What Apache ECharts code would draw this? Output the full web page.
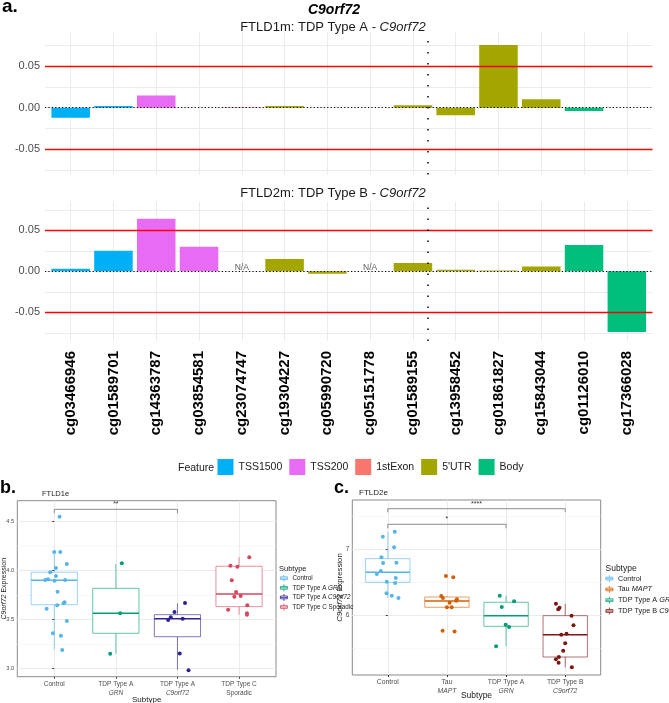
<!DOCTYPE html>
<html><head><meta charset="utf-8">
<script src="https://cdn.jsdelivr.net/npm/echarts@6/dist/echarts.min.js"></script>
<style>html,body{margin:0;padding:0;background:#fff}#c{width:669px;height:703px}</style>
</head><body><div id="c"></div>
<script>
// ---------------- Panel a data ----------------
const probes = ['cg03466946','cg01589701','cg14363787','cg03854581','cg23074747','cg19304227','cg05990720','cg05151778','cg01589155','cg13958452','cg01861827','cg15843044','cg01126010','cg17366028'];
const probeFeature = ['TSS1500','TSS1500','TSS200','TSS200','1stExon',"5'UTR","5'UTR","5'UTR","5'UTR","5'UTR","5'UTR","5'UTR",'Body','Body'];
const features = ['TSS1500','TSS200','1stExon',"5'UTR",'Body'];
const featureColors = ['#00B0F6','#E76BF3','#F8766D','#A3A500','#00BF7D'];
const ftld1m = [-0.012,0.002,0.0145,0,0.0006,0.002,0,0,0.003,-0.009,0.075,0.010,-0.004,0];
const ftld2m = [0.003,0.025,0.064,0.030,null,0.015,-0.003,null,0.010,0.002,0.001,0.006,0.032,-0.074];
const thresholds = [0.05,-0.05];
const regionDivider = 8.35;
const aGridTicks = [-0.075,-0.05,-0.025,0,0.025,0.05,0.075];
const aLabelTicks = [-0.05,0,0.05];

// ---------------- Panel b data ----------------
const subtypesB = ['Control','TDP Type A GRN','TDP Type A C9orf72','TDP Type C Sporadic'];
const xLabB = ['Control','TDP Type A\nGRN','TDP Type A\nC9orf72','TDP Type C\nSporadic'];
const colorsB = ['#56B4E9','#009E73','#2E2190','#D8455F'];
// [lower whisker, Q1, median, Q3, upper whisker]
const boxB = [[3.187,3.649,3.898,3.980,4.187],[3.149,3.357,3.561,3.816,4.064],[2.985,3.322,3.506,3.547,3.663],[3.547,3.629,3.758,4.041,4.133]];
// [jitter, value]
const ptsB0 = [[0.086,4.547],[0,4.187],[0.097,4.187],[0.204,4.064],[-0.065,3.980],[0.027,4.024],[0.027,3.942],[-0.145,3.901],[-0.102,3.908],[0.005,3.894],[0.177,3.901],[0.054,3.782],[0.167,3.673],[0.151,3.663],[0.048,3.643],[-0.124,3.608],[0.204,3.483],[-0.022,3.357],[0.108,3.333],[0.129,3.187]];
const ptsB1 = [[0.097,4.071],[0.07,3.561],[-0.092,3.149]];
const ptsB2 = [[0.123,3.666],[-0.048,3.575],[-0.108,3.520],[-0.151,3.493],[0.085,3.506],[0.037,3.15],[0.18,2.98]];
const ptsB3 = [[0.166,4.133],[-0.140,4.047],[-0.027,4.037],[-0.118,3.898],[-0.048,3.779],[0.027,3.738],[-0.076,3.731],[-0.177,3.598],[0.134,3.643],[0.129,3.561],[0.129,3.547]];
const bYLabels = [3.0,3.5,4.0,4.5];
const bYMinor = [3.25,3.75,4.25];
const bracketsB = [[0,2,4.622,4.582,'**']];

// ---------------- Panel c data ----------------
const subtypesC = ['Control','Tau MAPT','TDP Type A GRN','TDP Type B C9orf72'];
const xLabC = ['Control','Tau\nMAPT','TDP Type A\nGRN','TDP Type B\nC9orf72'];
const colorsC = ['#56B4E9','#D55E00','#009E73','#7A1712'];
const boxC = [[6.262,6.500,6.652,6.858,7.267],[6.121,6.121,6.217,6.277,6.292],[5.530,5.833,5.994,6.197,6.297],[5.212,5.368,5.706,5.994,6.176]];
const ptsC0 = [[0.118,7.267],[-0.084,7.191],[0.107,7.030],[-0.107,6.879],[-0.079,6.792],[0.146,6.797],[-0.118,6.671],[-0.185,6.626],[0.135,6.565],[-0.017,6.509],[0.124,6.489],[-0.022,6.333],[0.067,6.297],[0.18,6.262]];
const ptsC1 = [[-0.017,6.596],[0.107,6.576],[-0.096,6.292],[-0.067,6.262],[0.169,6.242],[0.157,6.222],[0.045,6.191],[0,6.121],[0.079,6.121],[-0.073,5.767],[0.129,5.753]];
const ptsC2 = [[-0.107,6.297],[0.135,6.212],[-0.073,6.126],[-0.006,5.858],[0.051,5.823],[-0.169,5.530]];
const ptsC3 = [[-0.157,6.176],[-0.096,6.115],[-0.118,6.09],[0.107,5.994],[0.14,5.848],[-0.067,5.706],[0.022,5.721],[0,5.576],[-0.034,5.464],[-0.107,5.368],[-0.157,5.333],[-0.112,5.282],[0.112,5.212]];
const cYLabels = [6,7];
const cYMinor = [5.5,6.5,7.5];
const bracketsC = [[0,3,7.615,7.561,'****'],[0,2,7.379,7.318,'*']];

// ---------------- helpers ----------------
const FONT = "'Liberation Sans', Arial, sans-serif";
const italicWords = ['C9orf72','GRN','MAPT'];
function ital(s){ let t = s; italicWords.forEach(w => { t = t.split(w).join('{i|' + w + '}'); }); return t; }

const gridA1 = {left:45, top:32.6, width:607.5, height:141.8, outerBoundsMode:'none', containLabel:false};
const gridA2 = {left:45, top:201.6, width:607.5, height:139.4, outerBoundsMode:'none', containLabel:false};
const gridB = {left:17.3, top:500.7, width:258.7, height:176, show:true, borderColor:'#8a8a8a', borderWidth:1, backgroundColor:'transparent', outerBoundsMode:'none', containLabel:false};
const gridC = {left:352.3, top:500, width:248.4, height:175, show:true, borderColor:'#8a8a8a', borderWidth:1, backgroundColor:'transparent', outerBoundsMode:'none', containLabel:false};
const barW = gridA1.width / 14.2 * 0.9;
const idx = probes.map((_, i) => i);
const GRID = '#EBEBEB';

function barSeries(values, ai){
  const out = features.map((f, k) => ({
    type:'bar', name:f, xAxisIndex:ai, yAxisIndex:ai, barWidth:barW, barGap:'-100%', silent:true,
    itemStyle:{color:featureColors[k]},
    data: idx.filter(i => probeFeature[i] === f && values[i] !== null).map(i => [i, values[i]])
  }));
  out[0].markLine = {
    silent:true, symbol:['none','none'], label:{show:false}, animation:false,
    data: thresholds.map(t => ({yAxis:t, lineStyle:{color:'#FF0000', width:1.3, type:'solid'}}))
      .concat([{yAxis:0, lineStyle:{color:'#000', width:1, type:[1.2,2.2]}},
               {xAxis:regionDivider, lineStyle:{color:'#000', width:1.5, type:[1.5,9.5]}}])
  };
  return out;
}

function boxRender(colors){
  return function(params, api){
    const i = api.value(0);
    const lo = api.coord([i, api.value(1)]), q1 = api.coord([i, api.value(2)]), md = api.coord([i, api.value(3)]),
          q3 = api.coord([i, api.value(4)]), hi = api.coord([i, api.value(5)]);
    const hw = api.size([0.75, 0])[0] / 2;
    const c = colors[params.dataIndex];
    return {type:'group', children:[
      {type:'line', shape:{x1:lo[0], y1:lo[1], x2:q1[0], y2:q1[1]}, style:{stroke:c, strokeOpacity:0.6, lineWidth:1}},
      {type:'line', shape:{x1:q3[0], y1:q3[1], x2:hi[0], y2:hi[1]}, style:{stroke:c, strokeOpacity:0.6, lineWidth:1}},
      {type:'rect', shape:{x:q3[0]-hw, y:q3[1], width:2*hw, height:q1[1]-q3[1]}, style:{fill:'#fff', stroke:c, strokeOpacity:0.6, lineWidth:1}},
      {type:'line', shape:{x1:md[0]-hw, y1:md[1], x2:md[0]+hw, y2:md[1]}, style:{stroke:c, lineWidth:1.4}}
    ]};
  };
}
function bracketRender(list){
  return function(params, api){
    const b = list[params.dataIndex];
    const p1 = api.coord([b[0], b[3]]), p2 = api.coord([b[0], b[2]]), p3 = api.coord([b[1], b[2]]), p4 = api.coord([b[1], b[3]]);
    return {type:'group', children:[
      {type:'polyline', shape:{points:[p1,p2,p3,p4]}, style:{stroke:'#8c8c8c', lineWidth:1, fill:null}},
      {type:'text', x:(p2[0]+p3[0])/2, y:p2[1]-1.5, style:{text:b[4], align:'center', verticalAlign:'bottom', textAlign:'center', textVerticalAlign:'bottom', fontSize:7, fontFamily:FONT, fill:'#333'}}
    ]};
  };
}
function pointSeries(names, colors, pts, ai){
  return pts.map((arr, k) => ({
    type:'scatter', name:names[k], xAxisIndex:ai, yAxisIndex:ai, symbolSize:4, silent:true, z:5,
    itemStyle:{color:colors[k], opacity:1},
    data: arr.map(p => [k + p[0], p[1]])
  }));
}
const boxIcon = 'path://M0,3H10V7H0Z M0,5H10 M5,0V3 M5,7V10';

const xBase = (gi, labels, show, extra) => Object.assign({
  type:'value', gridIndex:gi, min:-0.6, max:labels.length - 0.4,
  axisLine:{show:false}, axisTick:{show:false, customValues:labels.map((_, i) => i)},
  splitLine:{show:true, lineStyle:{color:GRID, width:1}},
  axisLabel:{show:show, customValues:labels.map((_, i) => i)}
}, extra || {});

const option = {
  animation:false,
  textStyle:{fontFamily:FONT},
  grid:[gridA1, gridA2, gridB, gridC],
  xAxis:[
    xBase(0, probes, false),
    xBase(1, probes, true, {axisLabel:{show:true, customValues:idx, rotate:90, margin:10,
      formatter:v => probes[Math.round(v)], fontWeight:'bold', fontSize:15, color:'#000', fontFamily:FONT}}),
    xBase(2, xLabB, true, {
      axisTick:{show:true, length:2, customValues:[0,1,2,3], lineStyle:{color:'#333'}},
      axisLabel:{show:true, customValues:[0,1,2,3], formatter:v => ital(xLabB[Math.round(v)]), fontSize:6.5, lineHeight:9, color:'#4D4D4D', margin:3,
        rich:{i:{fontStyle:'italic', fontSize:6.5, lineHeight:9, color:'#4D4D4D'}}},
      name:'Subtype', nameLocation:'middle', nameGap:19, nameMoveOverlap:false, nameTextStyle:{fontSize:8, color:'#1A1A1A'}}),
    xBase(3, xLabC, true, {
      axisTick:{show:true, length:2, customValues:[0,1,2,3], lineStyle:{color:'#333'}},
      axisLabel:{show:true, customValues:[0,1,2,3], formatter:v => ital(xLabC[Math.round(v)]), fontSize:6.8, lineHeight:9, color:'#4D4D4D', margin:3,
        rich:{i:{fontStyle:'italic', fontSize:6.8, lineHeight:9, color:'#4D4D4D'}}},
      name:'Subtype', nameLocation:'middle', nameGap:16, nameMoveOverlap:false, nameTextStyle:{fontSize:8.5, color:'#1A1A1A'}})
  ],
  yAxis:[
    {type:'value', gridIndex:0, min:-0.08, max:0.09, axisLine:{show:false},
      axisTick:{show:false, customValues:aGridTicks}, splitLine:{show:true, lineStyle:{color:GRID}},
      axisLabel:{customValues:aLabelTicks, formatter:v => v.toFixed(2), fontSize:11, color:'#4D4D4D', margin:5}},
    {type:'value', gridIndex:1, min:-0.085, max:0.085, axisLine:{show:false},
      axisTick:{show:false, customValues:aGridTicks}, splitLine:{show:true, lineStyle:{color:GRID}},
      axisLabel:{customValues:aLabelTicks, formatter:v => v.toFixed(2), fontSize:11, color:'#4D4D4D', margin:5}},
    {type:'value', gridIndex:2, min:2.914, max:4.71, axisLine:{show:false},
      axisTick:{show:true, length:2, customValues:bYLabels, lineStyle:{color:'#333'}}, splitLine:{show:true, lineStyle:{color:GRID}},
      axisLabel:{customValues:bYLabels, formatter:v => v.toFixed(1), fontSize:5.8, color:'#4D4D4D', margin:3},
      name:'{i|C9orf72} Expression', nameLocation:'middle', nameGap:10, nameMoveOverlap:false, nameRotate:90,
      nameTextStyle:{fontSize:7, color:'#1A1A1A', rich:{i:{fontStyle:'italic', fontSize:7, color:'#1A1A1A'}}}},
    {type:'value', gridIndex:2, min:2.914, max:4.71, axisLine:{show:false}, axisLabel:{show:false},
      axisTick:{show:false, customValues:bYMinor}, splitLine:{show:true, lineStyle:{color:'#F3F3F3', width:0.6}}},
    {type:'value', gridIndex:3, min:5.095, max:7.747, axisLine:{show:false},
      axisTick:{show:true, length:2, customValues:cYLabels, lineStyle:{color:'#333'}}, splitLine:{show:true, lineStyle:{color:GRID}},
      axisLabel:{customValues:cYLabels, formatter:v => String(v), fontSize:6.5, color:'#4D4D4D', margin:3},
      name:'{i|C9orf72} Expression', nameLocation:'middle', nameGap:8, nameMoveOverlap:false, nameRotate:90,
      nameTextStyle:{fontSize:7.8, color:'#1A1A1A', rich:{i:{fontStyle:'italic', fontSize:7.8, color:'#1A1A1A'}}}},
    {type:'value', gridIndex:3, min:5.095, max:7.747, axisLine:{show:false}, axisLabel:{show:false},
      axisTick:{show:false, customValues:cYMinor}, splitLine:{show:true, lineStyle:{color:'#F3F3F3', width:0.6}}}
  ],
  legend:[
    {orient:'horizontal', left:217.5, top:459, itemWidth:16, itemHeight:16, itemGap:7, padding:0, icon:'rect',
      selectedMode:false, data:features, textStyle:{fontSize:10.5, color:'#1A1A1A'}},
    {orient:'vertical', left:280, top:574.3, itemWidth:7, itemHeight:8, itemGap:1.8, padding:0, icon:boxIcon, selectedMode:false,
      data:subtypesB.map((n, i) => ({name:n, itemStyle:{color:'#fff', borderColor:colorsB[i], borderWidth:0.8}})),
      formatter:ital, textStyle:{fontSize:6.3, color:'#1A1A1A', rich:{i:{fontStyle:'italic', fontSize:6.3, color:'#1A1A1A'}}}},
    {orient:'vertical', left:605.5, top:574.7, itemWidth:7, itemHeight:8, itemGap:3, padding:0, icon:boxIcon, selectedMode:false,
      data:subtypesC.map((n, i) => ({name:n, itemStyle:{color:'#fff', borderColor:colorsC[i], borderWidth:0.8}})),
      formatter:ital, textStyle:{fontSize:7.3, color:'#1A1A1A', rich:{i:{fontStyle:'italic', fontSize:7.3, color:'#1A1A1A'}}}}
  ],
  graphic:[
    {type:'text', x:2, y:7, style:{text:'a.', font:'bold 19px ' + FONT, fill:'#000', verticalAlign:'middle', textVerticalAlign:'middle'}},
    {type:'text', x:334, y:10, style:{text:'C9orf72', font:'italic bold 14px ' + FONT, fill:'#000', align:'center', textAlign:'center', verticalAlign:'middle', textVerticalAlign:'middle'}},
    {type:'text', x:333, y:27, style:{text:'FTLD1m: TDP Type A - {i|C9orf72}', font:'13px ' + FONT, fill:'#1A1A1A', align:'center', textAlign:'center', verticalAlign:'middle', textVerticalAlign:'middle',
      rich:{i:{fontStyle:'italic', fontSize:13, fontFamily:FONT, color:'#1A1A1A'}}}},
    {type:'text', x:333, y:193, style:{text:'FTLD2m: TDP Type B - {i|C9orf72}', font:'13px ' + FONT, fill:'#1A1A1A', align:'center', textAlign:'center', verticalAlign:'middle', textVerticalAlign:'middle',
      rich:{i:{fontStyle:'italic', fontSize:13, fontFamily:FONT, color:'#1A1A1A'}}}},
    {type:'text', x:178, y:468, style:{text:'Feature', font:'10.5px ' + FONT, fill:'#1A1A1A', verticalAlign:'middle', textVerticalAlign:'middle'}},
    {type:'text', x:0, y:488, style:{text:'b.', font:'bold 18px ' + FONT, fill:'#000', verticalAlign:'middle', textVerticalAlign:'middle'}},
    {type:'text', x:42, y:493.5, style:{text:'FTLD1e', font:'7.5px ' + FONT, fill:'#1A1A1A', verticalAlign:'middle', textVerticalAlign:'middle'}},
    {type:'text', x:334, y:488, style:{text:'c.', font:'bold 18px ' + FONT, fill:'#000', verticalAlign:'middle', textVerticalAlign:'middle'}},
    {type:'text', x:359, y:493, style:{text:'FTLD2e', font:'8px ' + FONT, fill:'#1A1A1A', verticalAlign:'middle', textVerticalAlign:'middle'}},
    {type:'text', x:279, y:569, style:{text:'Subtype', font:'7.5px ' + FONT, fill:'#1A1A1A', verticalAlign:'middle', textVerticalAlign:'middle'}},
    {type:'text', x:605.5, y:568.5, style:{text:'Subtype', font:'8.5px ' + FONT, fill:'#1A1A1A', verticalAlign:'middle', textVerticalAlign:'middle'}}
  ],
  series: [].concat(
    barSeries(ftld1m, 0),
    barSeries(ftld2m, 1),
    [{type:'scatter', name:'na', xAxisIndex:1, yAxisIndex:1, symbolSize:0, silent:true,
      data: idx.filter(i => ftld2m[i] === null).map(i => [i, 0]),
      label:{show:true, position:'top', distance:-1, formatter:'N/A', fontSize:8.5, color:'#333'}}],
    [{type:'custom', name:'boxB', xAxisIndex:2, yAxisIndex:2, silent:true, z:2, renderItem:boxRender(colorsB),
      data: boxB.map((b, i) => [i].concat(b))}],
    pointSeries(subtypesB, colorsB, [ptsB0, ptsB1, ptsB2, ptsB3], 2),
    [{type:'custom', name:'brB', xAxisIndex:2, yAxisIndex:2, silent:true, z:3, renderItem:bracketRender(bracketsB),
      data: bracketsB.map(b => [b[0], b[2]])}],
    [{type:'custom', name:'boxC', xAxisIndex:3, yAxisIndex:4, silent:true, z:2, renderItem:boxRender(colorsC),
      data: boxC.map((b, i) => [i].concat(b))}],
    pointSeries(subtypesC, colorsC, [ptsC0, ptsC1, ptsC2, ptsC3], 3).map(s => Object.assign(s, {yAxisIndex:4})),
    [{type:'custom', name:'brC', xAxisIndex:3, yAxisIndex:4, silent:true, z:3, renderItem:bracketRender(bracketsC),
      data: bracketsC.map(b => [b[0], b[2]])}]
  )
};
const chart = echarts.init(document.getElementById('c'));
chart.setOption(option);
</script>
</body></html>
